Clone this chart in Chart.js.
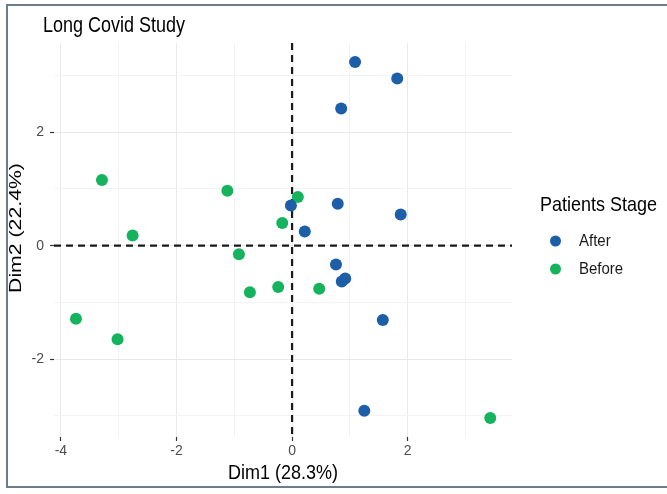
<!DOCTYPE html>
<html><head><meta charset="utf-8">
<script src="https://cdn.jsdelivr.net/npm/chart.js@4"></script>
<style>
html,body{margin:0;padding:0;background:#fff;overflow:hidden}
#wrap{position:relative;width:667px;height:494px}
#frame{position:absolute;left:6px;top:4px;width:700px;height:480px;border:2px solid #6b7c8e;pointer-events:none}
canvas{position:absolute;left:0;top:0}
</style></head><body>
<div id="wrap"><canvas id="c" width="667" height="494"></canvas><div id="frame"></div></div>
<script>
const chartTitle = 'Long Covid Study';
const xTitle = 'Dim1 (28.3%)';
const yTitle = 'Dim2 (22.4%)';
const legendTitle = 'Patients Stage';
const seriesNames = ['After', 'Before'];
const afterX  = [1.09, 1.82, 0.85, -0.02, 0.79, 1.88, 0.22, 0.76, 0.92, 0.86, 1.57, 1.25];
const afterY  = [3.24, 2.95, 2.42, 0.71, 0.74, 0.55, 0.25, -0.33, -0.58, -0.63, -1.31, -2.91];
const beforeX = [-3.29, -1.12, 0.10, -0.17, -2.76, -0.92, -0.73, -0.24, 0.47, -3.74, -3.02, 3.43];
const beforeY = [1.16, 0.97, 0.86, 0.40, 0.18, -0.15, -0.82, -0.73, -0.76, -1.29, -1.65, -3.04];
const xTicks = [-4, -3, -2, -1, 0, 1, 2, 3];
const yTicks = [-3, -2, -1, 0, 1, 2, 3];
const xTickLabels = ['-4', '', '-2', '', '0', '', '2', ''];
const yTickLabels = ['', '-2', '', '0', '', '2', ''];

const FONT = '"Liberation Sans", Arial, Helvetica, sans-serif';
const toPts = (xs, ys) => xs.map((x, i) => ({x: x, y: ys[i]}));

function txt(ctx, s, x, y, size, color, align, sx, sy, rot) {
  ctx.save();
  ctx.translate(x, y);
  if (rot) ctx.rotate(rot);
  ctx.scale(sx, sy);
  ctx.font = size + 'px ' + FONT;
  ctx.fillStyle = color;
  ctx.textAlign = align;
  ctx.textBaseline = 'alphabetic';
  ctx.fillText(s, 0, 0);
  ctx.restore();
}

const decor = {
  id: 'decor',
  beforeDatasetsDraw(chart) {
    const ctx = chart.ctx, a = chart.chartArea;
    const x0 = chart.scales.x.getPixelForValue(0);
    const y0 = chart.scales.y.getPixelForValue(0);
    ctx.save();
    ctx.strokeStyle = '#1a1a1a';
    ctx.lineWidth = 2.2;
    ctx.setLineDash([7, 5]);
    ctx.beginPath(); ctx.moveTo(a.left, y0); ctx.lineTo(a.right, y0); ctx.stroke();
    ctx.beginPath(); ctx.moveTo(x0, a.top); ctx.lineTo(x0, a.bottom); ctx.stroke();
    ctx.restore();
  },
  afterDraw(chart) {
    const ctx = chart.ctx, a = chart.chartArea;
    txt(ctx, chartTitle, 43, 31.5, 18, '#000', 'left', 1, 1.25, 0);
    txt(ctx, xTitle, (a.left + a.right) / 2, 479, 18, '#000', 'center', 1, 1.12, 0);
    txt(ctx, yTitle, 21, 228, 17, '#000', 'center', 1.25, 1, -Math.PI / 2);
    txt(ctx, legendTitle, 540, 211, 18, '#000', 'left', 1, 1.12, 0);
    const ys = [241, 269];
    chart.data.datasets.forEach((ds, i) => {
      ctx.save();
      ctx.fillStyle = ds.backgroundColor;
      ctx.beginPath(); ctx.arc(555.5, ys[i], 5.5, 0, Math.PI * 2); ctx.fill();
      ctx.restore();
      txt(ctx, ds.label, 579, ys[i] + 5, 15, '#1a1a1a', 'left', 1, 1.1, 0);
    });
  }
};

const gridColor = c => (Math.abs(c.tick.value) % 2 === 0 ? '#e9e9e9' : '#f3f3f3');
const tickColor = c => (Math.abs(c.tick.value) % 2 === 0 ? '#333333' : 'rgba(0,0,0,0)');

new Chart(document.getElementById('c'), {
  type: 'scatter',
  data: {
    datasets: [
      {label: seriesNames[0], data: toPts(afterX, afterY), backgroundColor: '#1c5ea8', borderWidth: 0, pointRadius: 6, pointHoverRadius: 6},
      {label: seriesNames[1], data: toPts(beforeX, beforeY), backgroundColor: '#15b35e', borderWidth: 0, pointRadius: 6, pointHoverRadius: 6}
    ]
  },
  options: {
    responsive: false,
    animation: false,
    devicePixelRatio: 1,
    layout: {padding: {top: 43, right: 155, left: 0, bottom: 0}},
    plugins: {legend: {display: false}, title: {display: false}, tooltip: {enabled: false}},
    scales: {
      x: {
        type: 'linear', position: 'bottom', min: -4.12, max: 3.806,
        afterBuildTicks: s => { s.ticks = xTicks.map(v => ({value: v})); },
        afterFit: s => { s.height = 57; },
        border: {display: false},
        grid: {color: gridColor, tickColor: tickColor, lineWidth: 1, tickLength: 4, tickWidth: 1.2},
        ticks: {autoSkip: false, maxRotation: 0, padding: 2, color: '#4d4d4d', font: {family: FONT, size: 14},
          callback: (v, i) => xTickLabels[xTicks.indexOf(v)] ?? ''}
      },
      y: {
        type: 'linear', position: 'left', min: -3.374, max: 3.575,
        afterBuildTicks: s => { s.ticks = yTicks.map(v => ({value: v})); },
        afterFit: s => { s.width = 54; },
        border: {display: false},
        grid: {color: gridColor, tickColor: tickColor, lineWidth: 1, tickLength: 4, tickWidth: 1.2},
        ticks: {autoSkip: false, padding: 6, color: '#4d4d4d', font: {family: FONT, size: 14},
          callback: (v, i) => yTickLabels[yTicks.indexOf(v)] ?? ''}
      }
    }
  },
  plugins: [decor]
});
</script>
</body></html>
